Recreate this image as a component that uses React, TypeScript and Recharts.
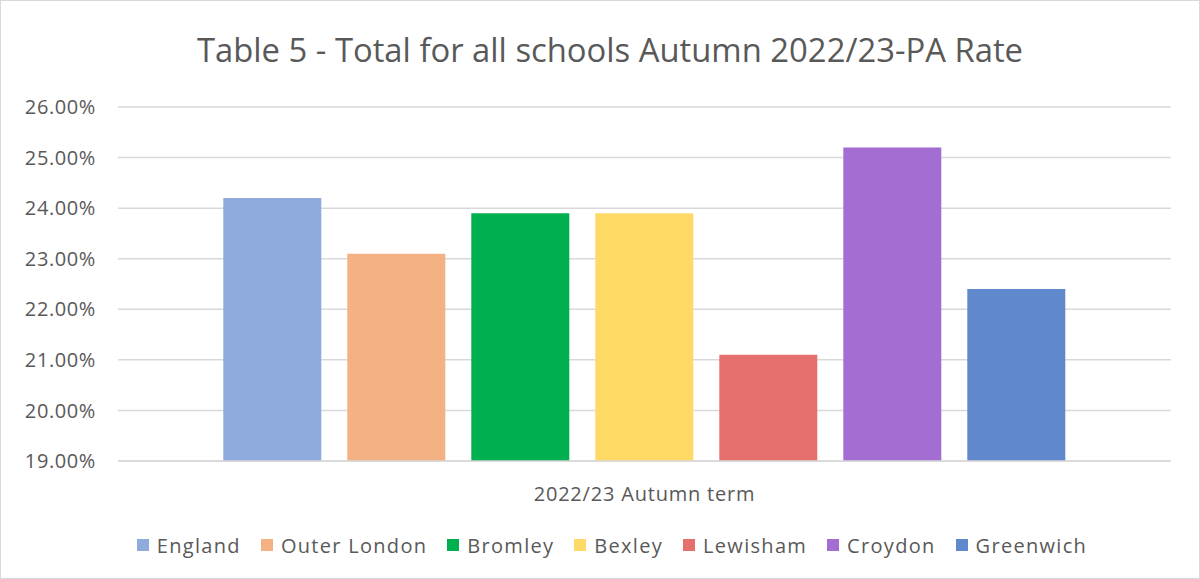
import { BarChart, Bar, XAxis, YAxis, CartesianGrid, Legend } from "recharts";

const categories = ["2022/23 Autumn term"];
const areas = ["England", "Outer London", "Bromley", "Bexley", "Lewisham", "Croydon", "Greenwich"];
const paRates = [24.2, 23.1, 23.9, 23.9, 21.1, 25.2, 22.4];
const colors = ["#8faadc", "#f4b183", "#00b050", "#ffd966", "#e6706d", "#a46dd2", "#6088cc"];
const yTicks = [19, 20, 21, 22, 23, 24, 25, 26];

const data = categories.map((name) => {
  const row: Record<string, string | number> = { name };
  areas.forEach((a, i) => {
    row[a] = paRates[i];
  });
  return row;
});

const FONT = "'Open Sans', sans-serif";
const TEXT = "#595959";

function LegendRow() {
  return (
    <div
      style={{
        display: "flex",
        justifyContent: "center",
        alignItems: "center",
        height: 40,
        paddingLeft: 52,
        gap: 20,
        fontFamily: FONT,
        fontSize: 20,
        color: TEXT,
        letterSpacing: 1.3,
      }}
    >
      {areas.map((a, i) => (
        <span key={a} style={{ display: "flex", alignItems: "center" }}>
          <span style={{ width: 12, height: 12, background: colors[i], marginRight: 8 }} />
          {a}
        </span>
      ))}
    </div>
  );
}

export default function App() {
  return (
    <div
      style={{
        position: "absolute",
        left: 0,
        top: 0,
        width: 1198,
        height: 577,
        border: "1px solid #d9d9d9",
        background: "#fff",
        fontFamily: FONT,
      }}
    >
      <div
        style={{
          position: "absolute",
          top: 26,
          left: 10,
          width: "100%",
          textAlign: "center",
          fontSize: 32.8,
          color: TEXT,
        }}
      >
        Table 5 - Total for all schools Autumn 2022/23-PA Rate
      </div>
      <BarChart
        width={1198}
        height={578}
        data={data}
        margin={{ top: 106, right: 28, bottom: 14, left: 0 }}
        barCategoryGap="10%"
        barGap={26}
      >
        <CartesianGrid vertical={false} stroke="#d9d9d9" strokeWidth={1.5} />
        <XAxis
          dataKey="name"
          height={64}
          axisLine={{ stroke: "#d9d9d9", strokeWidth: 1.5 }}
          tickLine={false}
          tickMargin={20}
          tick={{ fill: TEXT, fontSize: 20, fontFamily: FONT, letterSpacing: 0.8 }}
        />
        <YAxis
          width={117}
          domain={[19, 26]}
          ticks={yTicks}
          axisLine={false}
          tickLine={false}
          tickMargin={16}
          tickFormatter={(v) => `${Number(v).toFixed(2)}%`}
          tick={{ fill: TEXT, fontSize: 20, fontFamily: FONT, letterSpacing: 0.6 }}
        />
        <Legend verticalAlign="bottom" height={40} content={() => <LegendRow />} />
        {areas.map((a, i) => (
          <Bar key={a} dataKey={a} fill={colors[i]} isAnimationActive={false} />
        ))}
      </BarChart>
    </div>
  );
}
